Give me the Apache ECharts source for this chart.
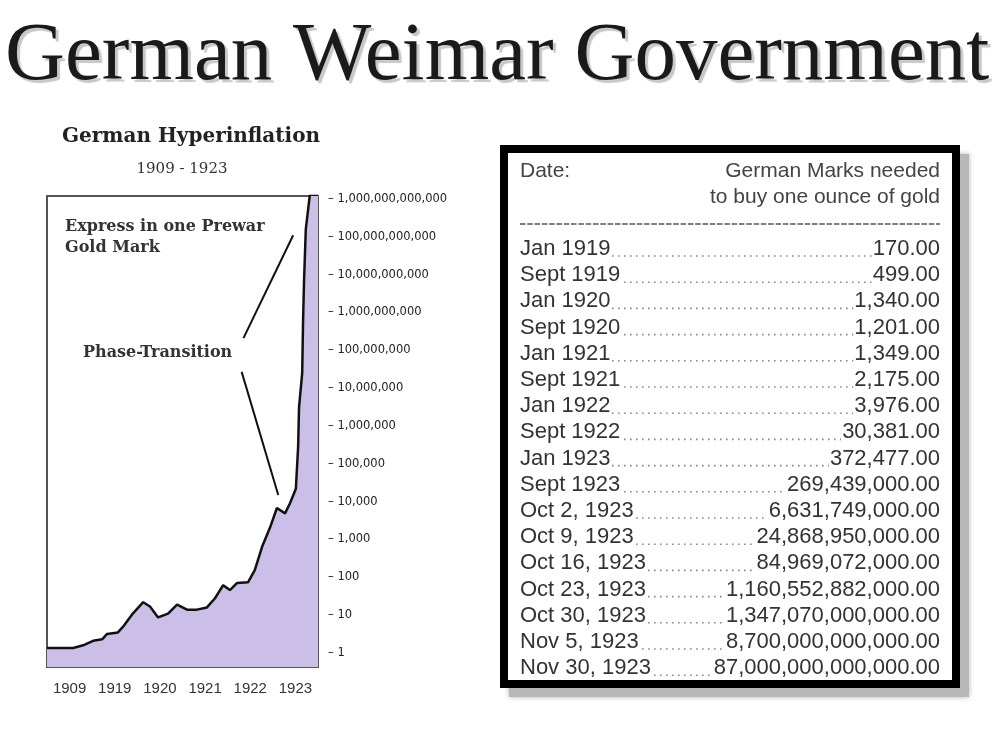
<!DOCTYPE html>
<html>
<head>
<meta charset="utf-8">
<title>German Weimar Government</title>
<script src="https://cdn.jsdelivr.net/npm/echarts@6/dist/echarts.min.js"></script>
<style>
  html, body { margin: 0; padding: 0; background: #fff; }
  #main { width: 1007px; height: 739px; }
</style>
</head>
<body>
<div id="main"></div>
<script>
// year bands along the bottom of the chart
var yearLabels = ['1909', '1919', '1920', '1921', '1922', '1923']

// position along the year axis (0 = start of the 1909 band, 1 band per label)
var timePos = [0, 0.58, 0.80, 1.02, 1.22, 1.33, 1.57, 1.68, 1.90, 2.13, 2.28, 2.46, 2.68,
  2.88, 3.10, 3.32, 3.54, 3.72, 3.90, 4.05, 4.21, 4.45, 4.60, 4.76, 4.94, 5.09, 5.27,
  5.38, 5.51, 5.56, 5.58, 5.65, 5.67, 5.69, 5.73, 5.82, 6.0]

// paper marks for one prewar gold mark
var marks = [1.35, 1.35, 1.6, 2.1, 2.3, 3.2, 3.5, 4.9, 11, 22, 17, 8.7, 11,
  19, 14, 14, 16, 28, 62, 46, 71, 74, 155, 630, 2100, 6800, 4900,
  9100, 22000, 2.8e5, 3.1e6, 2.5e7, 6.3e8, 6.3e9, 1.6e11, 1.3e12, 1.3e12]

// annotation pointers [from, to] in chart coordinates
var pointerExpress = [[5.45, 1.1e11], [4.35, 2.1e8]]
var pointerPhase = [[4.31, 2.7e7], [5.12, 1.5e4]]

// table on the right
var tableDates = ['Jan 1919', 'Sept 1919', 'Jan 1920', 'Sept 1920', 'Jan 1921', 'Sept 1921',
  'Jan 1922', 'Sept 1922', 'Jan 1923', 'Sept 1923', 'Oct 2, 1923', 'Oct 9, 1923',
  'Oct 16, 1923', 'Oct 23, 1923', 'Oct 30, 1923', 'Nov 5, 1923', 'Nov 30, 1923']
var tableMarks = ['170.00', '499.00', '1,340.00', '1,201.00', '1,349.00', '2,175.00',
  '3,976.00', '30,381.00', '372,477.00', '269,439,000.00', '6,631,749,000.00',
  '24,868,950,000.00', '84,969,072,000.00', '1,160,552,882,000.00',
  '1,347,070,000,000.00', '8,700,000,000,000.00', '87,000,000,000,000.00']

// plot box and the span of the 1 .. 1,000,000,000,000 tick labels
var plotLeft = 47, plotTop = 196, plotWidth = 271, plotHeight = 471
var labelTop = 199, labelBottom = 653
var decadePx = (labelBottom - labelTop) / 12
var yMin = Math.pow(10, -(plotTop + plotHeight - labelBottom) / decadePx)
var yMax = Math.pow(10, 12 + (labelTop - plotTop) / decadePx)

var chart = echarts.init(document.getElementById('main'))

var serif = 'DejaVu Serif'
var sans = 'Liberation Sans'

var graphics = [
  {
    type: 'text',
    style: {
      text: 'German Weimar Government', x: 5, y: 57,
      fontSize: 83, fontFamily: 'Liberation Serif', fill: '#1a1a1a',
      align: 'left', verticalAlign: 'middle',
      textShadowColor: 'rgba(0,0,0,0.22)', textShadowBlur: 1,
      textShadowOffsetX: 3, textShadowOffsetY: 3
    }
  },
  {
    type: 'text',
    style: {
      text: 'German Hyperinflation', x: 191, y: 137,
      fontSize: 20, fontWeight: 'bold', fontFamily: serif, fill: '#222',
      align: 'center', verticalAlign: 'middle'
    }
  },
  {
    type: 'text',
    style: {
      text: '1909 - 1923', x: 182, y: 169,
      fontSize: 15, fontFamily: serif, fill: '#333',
      align: 'center', verticalAlign: 'middle'
    }
  },
  {
    type: 'text', z: 10,
    style: {
      text: 'Express in one Prewar\nGold Mark', x: 65, y: 216,
      fontSize: 16, fontWeight: 'bold', fontFamily: serif, fill: '#333',
      lineHeight: 21, align: 'left', verticalAlign: 'top'
    }
  },
  {
    type: 'text', z: 10,
    style: {
      text: 'Phase-Transition', x: 83, y: 353,
      fontSize: 16, fontWeight: 'bold', fontFamily: serif, fill: '#333',
      align: 'left', verticalAlign: 'middle'
    }
  },
  // table shadow, then the frame on top of it
  {
    type: 'rect',
    shape: { x: 509, y: 154, width: 460, height: 543 },
    style: { fill: '#b8b8b8', shadowBlur: 5, shadowColor: 'rgba(0,0,0,0.3)' }
  },
  {
    type: 'rect',
    shape: { x: 504, y: 149, width: 452, height: 535 },
    style: { fill: '#fff', stroke: '#000', lineWidth: 8 }
  },
  {
    type: 'text',
    style: { text: 'Date:', x: 520, y: 171, fontSize: 21, fontFamily: sans, fill: '#444', align: 'left', verticalAlign: 'middle' }
  },
  {
    type: 'text',
    style: { text: 'German Marks needed', x: 940, y: 171, fontSize: 21, fontFamily: sans, fill: '#444', align: 'right', verticalAlign: 'middle' }
  },
  {
    type: 'text',
    style: { text: 'to buy one ounce of gold', x: 940, y: 197, fontSize: 21, fontFamily: sans, fill: '#444', align: 'right', verticalAlign: 'middle' }
  },
  {
    type: 'line',
    shape: { x1: 520, y1: 224, x2: 940, y2: 224 },
    style: { stroke: '#555', lineWidth: 1.5, lineDash: [5.5, 1.8] }
  }
]

var rowY0 = 249, rowStep = 26.2
tableDates.forEach(function(d, i) {
  var y = rowY0 + i * rowStep
  graphics.push({
    type: 'line',
    shape: { x1: 522, y1: y + 7, x2: 938, y2: y + 7 },
    style: { stroke: '#888', lineWidth: 1.6, lineDash: [1.6, 4.4] }
  })
  graphics.push({
    type: 'text', z: 2,
    style: {
      text: d, x: 520, y: y, fontSize: 22, fontFamily: sans, fill: '#333',
      align: 'left', verticalAlign: 'middle', backgroundColor: '#fff', padding: [0, 1, 0, 0]
    }
  })
  graphics.push({
    type: 'text', z: 2,
    style: {
      text: tableMarks[i], x: 940, y: y, fontSize: 22, fontFamily: sans, fill: '#333',
      align: 'right', verticalAlign: 'middle', backgroundColor: '#fff', padding: [0, 0, 0, 1]
    }
  })
})

var option = {
  animation: false,
  backgroundColor: '#fff',
  grid: [
    {
      left: plotLeft, top: plotTop, width: plotWidth, height: plotHeight,
      show: true, borderColor: '#555', borderWidth: 2
    },
    { left: plotLeft, top: labelTop, width: plotWidth, height: labelBottom - labelTop }
  ],
  xAxis: [
    {
      gridIndex: 0, type: 'value', min: 0, max: 6, interval: 1,
      axisLine: { show: false },
      splitLine: { show: false },
      axisTick: {
        inside: true, length: 5, customValues: [1, 2, 3, 4, 5],
        lineStyle: { color: '#333', width: 1.5 }
      },
      axisLabel: {
        customValues: [0.5, 1.5, 2.5, 3.5, 4.5, 5.5],
        formatter: function(v) { return yearLabels[Math.floor(v)] },
        margin: 14, fontSize: 15, fontFamily: sans, color: '#333'
      }
    },
    { gridIndex: 1, type: 'value', show: false }
  ],
  yAxis: [
    { gridIndex: 0, type: 'log', min: yMin, max: yMax, show: false },
    {
      gridIndex: 1, type: 'log', min: 1, max: 1e12, interval: 1, position: 'right',
      axisLine: { show: false },
      axisTick: { show: false },
      splitLine: { show: false },
      axisLabel: {
        margin: 10, fontSize: 11.5, fontFamily: 'DejaVu Sans', color: '#222',
        formatter: function(v) { return '\u2013 ' + Math.round(v).toLocaleString('en-US') }
      }
    }
  ],
  series: [{
    type: 'line',
    xAxisIndex: 0,
    yAxisIndex: 0,
    data: timePos.map(function(x, i) { return [x, marks[i]] }),
    showSymbol: false,
    lineStyle: { color: '#111', width: 2.5 },
    areaStyle: { color: '#cbbfe8', opacity: 1 },
    markLine: {
      silent: true,
      symbol: 'none',
      label: { show: false },
      lineStyle: { color: '#111', width: 2, type: 'solid' },
      data: [
        [{ coord: pointerExpress[0] }, { coord: pointerExpress[1] }],
        [{ coord: pointerPhase[0] }, { coord: pointerPhase[1] }]
      ]
    }
  }],
  graphic: graphics
}

chart.setOption(option)
</script>
</body>
</html>
